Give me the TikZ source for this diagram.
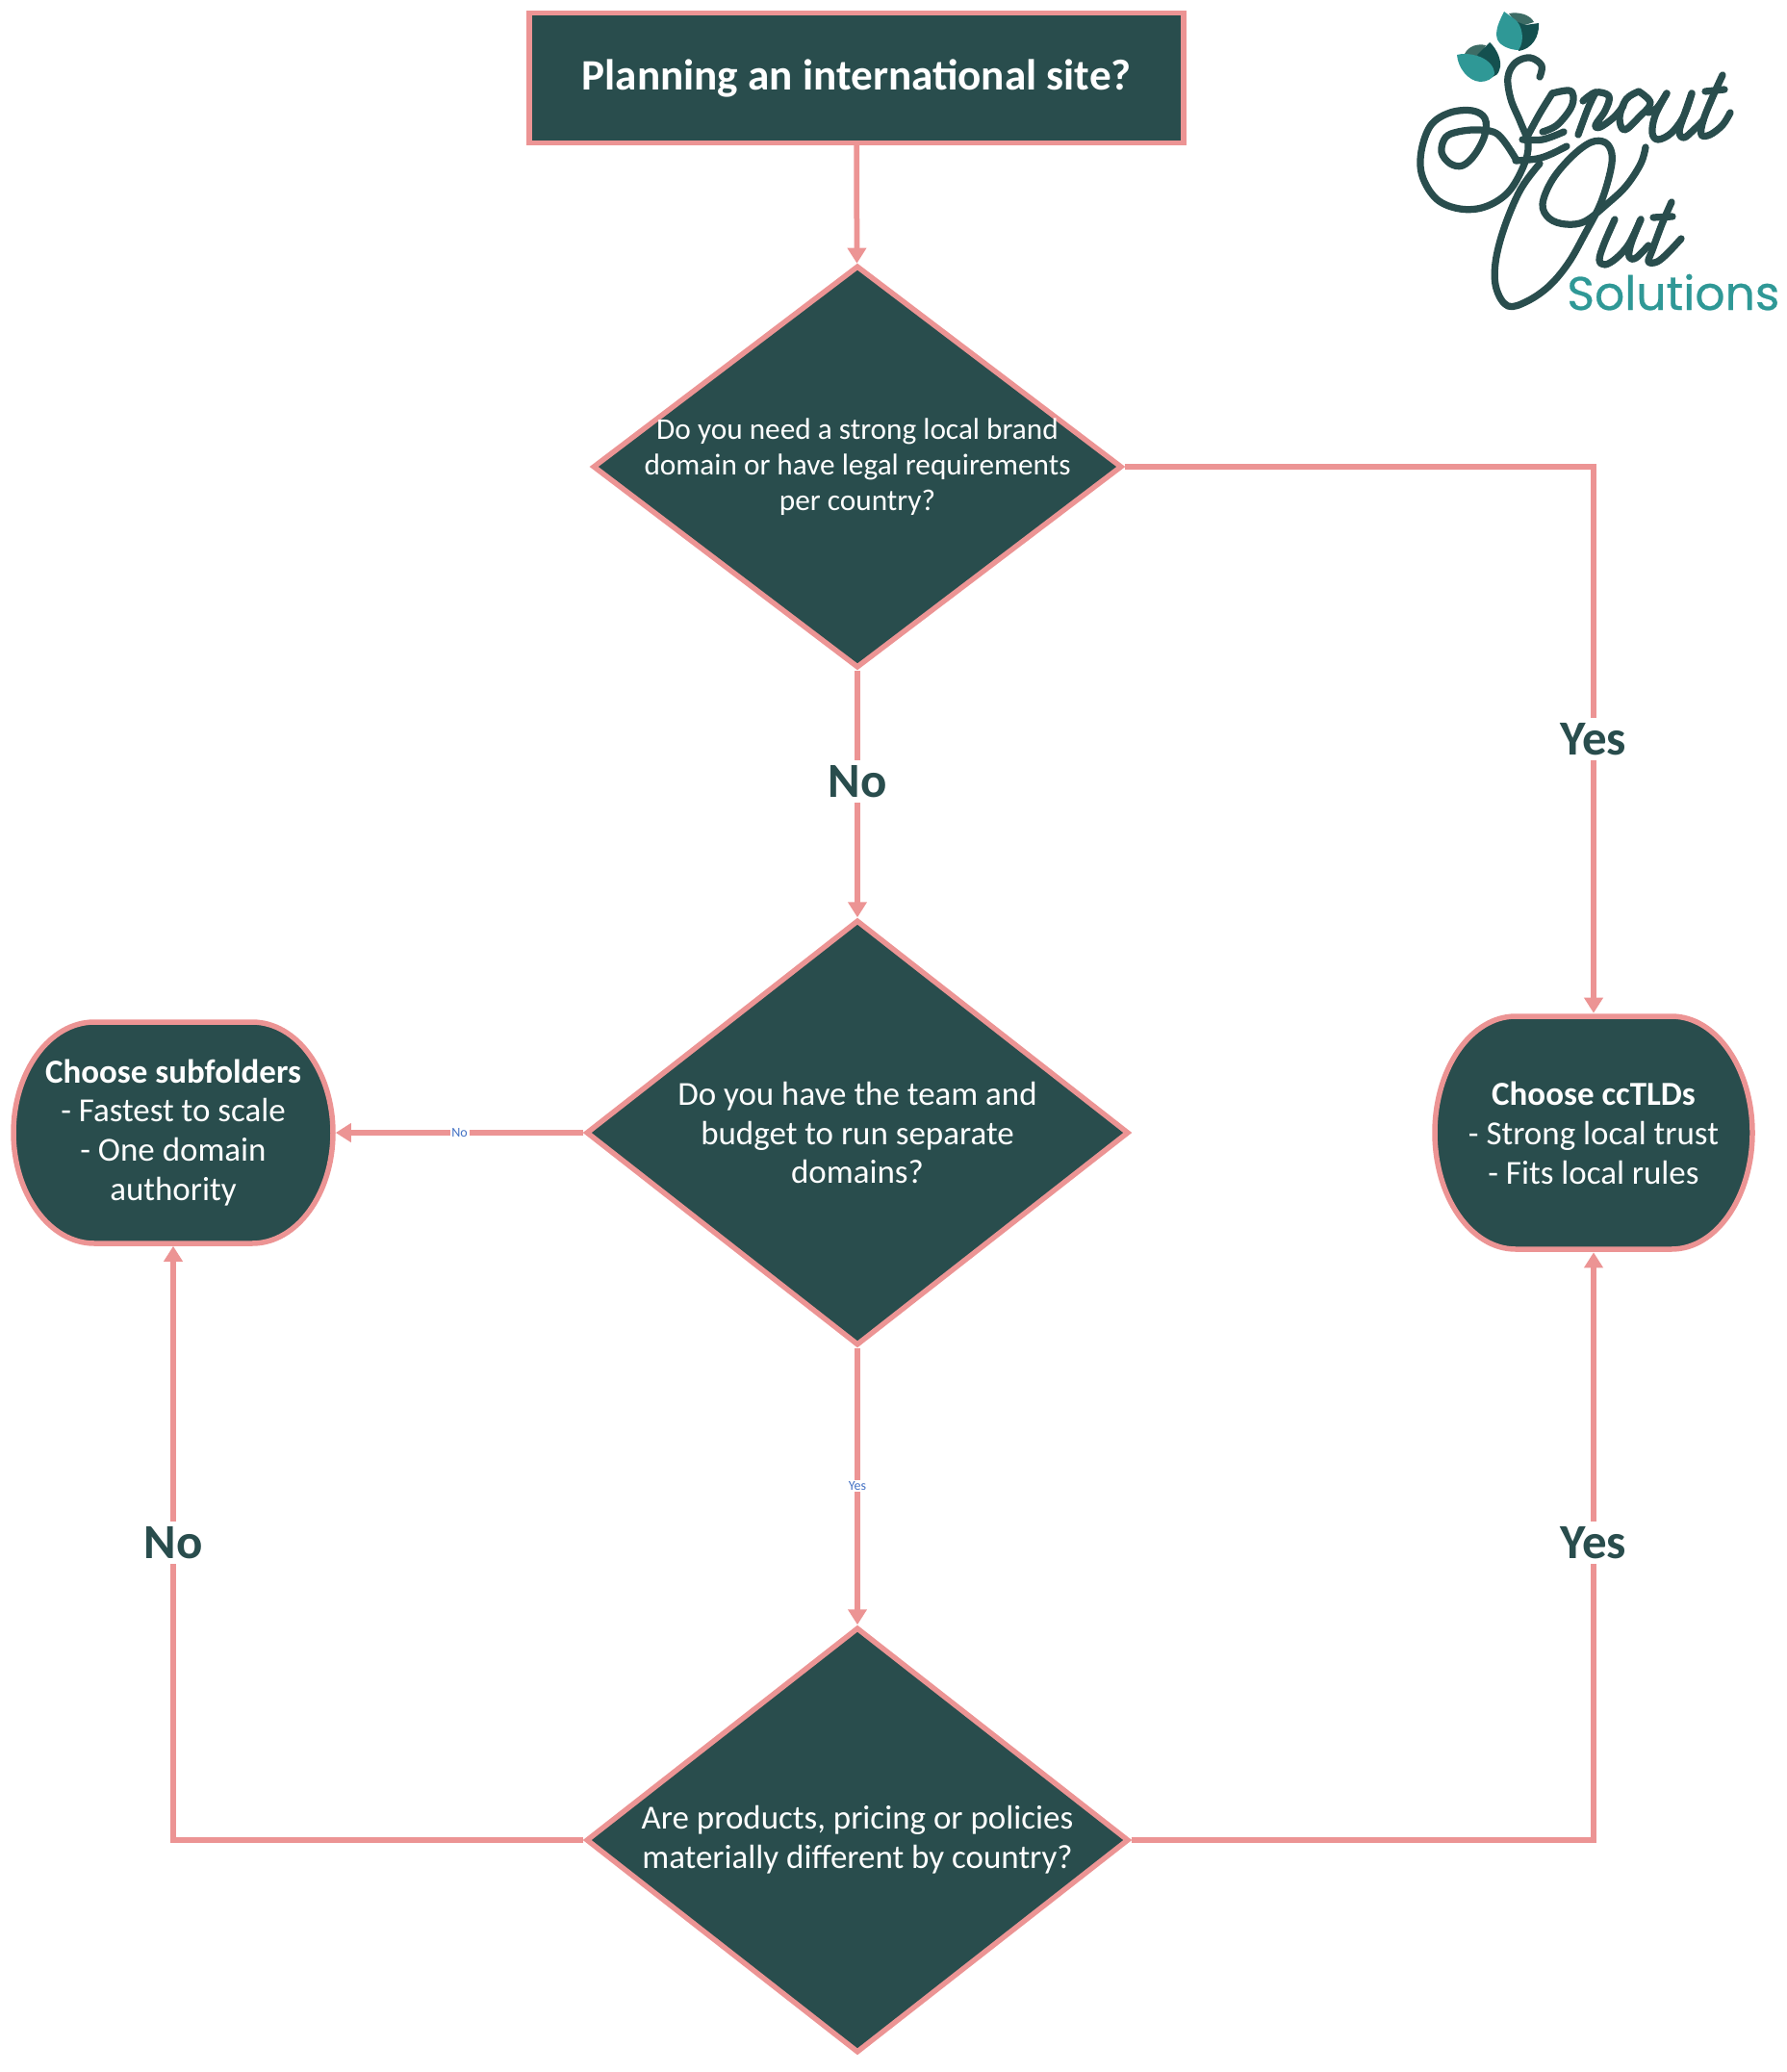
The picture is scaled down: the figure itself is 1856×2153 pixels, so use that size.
\documentclass[tikz,border=0pt]{standalone}
\usepackage{fontspec}
\setmainfont{Carlito}
\newfontfamily\logofont[FakeBold=0.5]{Poppins}
\usetikzlibrary{arrows.meta,shapes.geometric}

\definecolor{boxfill}{HTML}{294D4D}
\definecolor{boxline}{HTML}{EC9494}
\definecolor{smalltext}{HTML}{4472C4}
\definecolor{logoteal}{HTML}{2F9896}
\definecolor{logodark}{HTML}{14504F}
\definecolor{logomid}{HTML}{3D6C65}

\tikzset{
	startbox/.style={draw=boxline,fill=boxfill,line width=0.11cm,text=white,font=\fontsize{25.7}{30}\selectfont\bfseries,minimum width=13.6cm,minimum height=2.7cm},
	decision/.style={diamond,draw=boxline,fill=boxfill,line width=0.11cm,inner sep=0pt},
	softbox/.style={draw=boxline,fill=boxfill,line width=0.11cm},
	softtext/.style={text=white,align=center,font=\fontsize{19.9}{23.3}\selectfont},
	smalldecision/.style={softtext,font=\fontsize{17.8}{21}\selectfont},
	link/.style={draw=boxline,line width=0.115cm,-{Triangle[length=0.32cm,width=0.38cm]}},
	biglabel/.style={fill=white,text=boxfill,font=\fontsize{29}{32}\selectfont\bfseries,inner sep=3pt},
	smalllabel/.style={fill=white,text=smalltext,font=\fontsize{8}{9}\selectfont,inner sep=1pt},
	logoline/.style={draw=boxfill,line width=0.145cm,line cap=round,line join=round},
}

\begin{document}
\begin{tikzpicture}[x=0.02cm,y=-0.02cm]
\useasboundingbox (0,0) rectangle (1856,2153);

% START
\node[startbox] (start) at (890,81) {Planning an international site?};

% DECISIONS
\node[decision,minimum width=11cm,minimum height=8.36cm] (brand) at (891,485) {};
\node[smalldecision] (brandtext) at (brand) {Do you need a strong local brand\\domain or have legal requirements\\per country?};
\node[decision,minimum width=11.28cm,minimum height=8.84cm] (team) at (891,1177) {};
\node[softtext] (teamtext) at (team) {Do you have the team and\\budget to run separate\\domains?};
\node[decision,minimum width=11.28cm,minimum height=8.84cm] (diff) at (891,1912) {};
\node[softtext] (difftext) at (diff) {Are products, pricing or policies\\materially different by country?};

% SUBFOLDERS
\draw[softbox] (14,1177) arc[start angle=180,end angle=270,x radius=84,y radius=115] -- (262,1062)
	arc[start angle=270,end angle=360,x radius=84,y radius=115]
	arc[start angle=0,end angle=90,x radius=84,y radius=115] -- (98,1292)
	arc[start angle=90,end angle=180,x radius=84,y radius=115] -- cycle;
\node[softtext,minimum width=6.74cm,minimum height=4.7cm] (subfolders) at (180,1177)
	{\textbf{Choose subfolders}\\- Fastest to scale\\- One domain\\authority};

% CCTLDS
\draw[softbox] (1491,1177) arc[start angle=180,end angle=270,x radius=84,y radius=121] -- (1737,1056)
	arc[start angle=270,end angle=360,x radius=84,y radius=121]
	arc[start angle=0,end angle=90,x radius=84,y radius=121] -- (1575,1298)
	arc[start angle=90,end angle=180,x radius=84,y radius=121] -- cycle;
\node[softtext,minimum width=6.72cm,minimum height=4.96cm] (cctld) at (1656,1177)
	{\textbf{Choose ccTLDs}\\- Strong local trust\\- Fits local rules};

% CONNECTORS
\draw[link] (start) -- (brand);
\draw[link] (brand) -- node[biglabel,pos=0.448] (brandno) {No} (team);
\draw[link] (brand) -| node[biglabel,pos=0.749] (brandyes) {Yes} (cctld);
\draw[link] (team) -- node[smalllabel] (teamno) {No} (subfolders);
\draw[link] (team) -- node[smalllabel,pos=0.498] (teamyes) {Yes} (diff);
\draw[link] (diff) -| node[biglabel,pos=0.75] (diffno) {No} (subfolders);
\draw[link] (diff) -| node[biglabel,pos=0.753] (diffyes) {Yes} (cctld);

% LOGO LEAVES
\fill[logomid] (1568,14) .. controls (1578,12) and (1590,15) .. (1594,23) -- (1578,28) -- cycle;
\fill[logodark] (1599,24) .. controls (1600,38) and (1592,51) .. (1578,53) -- (1570,20) -- (1585,26) -- cycle;
\fill[logoteal] (1563,12) .. controls (1558,22) and (1553,32) .. (1556,41) .. controls (1559,48) and (1570,52) .. (1578,52)
	.. controls (1585,42) and (1582,26) .. (1574,20) -- cycle;
\fill[logomid] (1522,56) .. controls (1526,48) and (1535,45) .. (1544,47) -- (1537,60) -- cycle;
\fill[logodark] (1548,44) .. controls (1555,50) and (1562,64) .. (1558,73) .. controls (1557,77) and (1554,79) .. (1551,80)
	-- (1535,57) -- cycle;
\fill[logoteal] (1514,57) .. controls (1515,70) and (1525,84) .. (1538,85) .. controls (1545,85) and (1551,82) .. (1553,77)
	.. controls (1553,68) and (1545,61) .. (1535,58) .. controls (1528,56) and (1520,55) .. (1514,57) -- cycle;

% LOGO LETTERS
\draw[logoline] plot[smooth,tension=0.6] coordinates {(1600,80) (1602,68) (1590,60) (1575,65) (1567,80) (1570,103) (1580,127) (1588,150) (1583,173) (1567,200) (1543,215) (1517,217) (1493,207) (1478,183) (1477,157) (1487,130) (1507,117) (1530,115) (1543,123) (1543,140) (1533,160) (1520,172) (1507,170) (1498,158) (1502,143) (1515,137) (1537,135) (1557,140) (1575,165)};
\draw[logoline] plot[smooth,tension=0.6] coordinates {(1575,167) (1597,165) (1612,160) (1628,152)};
\draw[logoline] plot[smooth,tension=0.6] coordinates {(1600,170) (1580,197) (1563,237) (1554,273) (1555,300) (1567,318) (1587,313) (1610,297) (1630,273) (1647,243) (1663,212) (1673,180) (1675,160) (1668,148) (1653,148) (1633,163) (1613,187) (1603,212) (1610,227) (1627,233) (1647,230) (1670,212) (1690,193) (1705,170) (1710,153)};
\draw[logoline] plot[smooth,tension=0.6] coordinates {(1678,228) (1667,253) (1662,270) (1668,275) (1680,268) (1693,253) (1705,228)};
\draw[logoline] plot[smooth,tension=0.6] coordinates {(1705,228) (1695,253) (1693,267) (1700,268) (1713,255)};
\draw[logoline] plot[smooth,tension=0.6] coordinates {(1737,210) (1727,233) (1717,260) (1713,272) (1722,272) (1733,263) (1747,248)};
\draw[logoline] (1718,226) -- (1738,225);
\draw[logoline] plot[smooth,tension=0.6] coordinates {(1613,97) (1600,118) (1587,142)};
\draw[logoline] plot[smooth,tension=0.6] coordinates {(1613,97) (1630,94) (1635,100) (1632,113) (1618,130) (1603,137)};
\draw[logoline] plot[smooth,tension=0.6] coordinates {(1582,145) (1603,145) (1625,137)};
\draw[logoline] plot[smooth,tension=0.6] coordinates {(1640,140) (1650,113) (1658,96)};
\draw[logoline] plot[smooth,tension=0.6] coordinates {(1645,105) (1658,96) (1672,100) (1668,115) (1658,130) (1663,132) (1677,122) (1687,110)};
\draw[logoline] plot[smooth,tension=0.6] coordinates {(1703,95) (1715,107) (1703,122) (1688,135) (1683,122) (1690,103) (1703,95)};
\draw[logoline] plot[smooth,tension=0.6] coordinates {(1713,117) (1722,112) (1732,97)};
\draw[logoline] plot[smooth,tension=0.6] coordinates {(1732,97) (1720,120) (1717,138) (1723,145) (1737,138) (1750,120) (1758,97)};
\draw[logoline] plot[smooth,tension=0.6] coordinates {(1758,97) (1750,120) (1745,137) (1750,143) (1760,135) (1770,125)};
\draw[logoline] plot[smooth,tension=0.6] coordinates {(1790,78) (1780,100) (1770,125) (1768,140) (1777,140) (1790,130) (1798,117)};
\draw[logoline] (1772,95) -- (1792,93);
\node[anchor=base west,inner sep=0pt,text=logoteal,font=\logofont\fontsize{27.8}{30}\selectfont] (solutions) at (1628,322) {Solutions};
\end{tikzpicture}
\end{document}
